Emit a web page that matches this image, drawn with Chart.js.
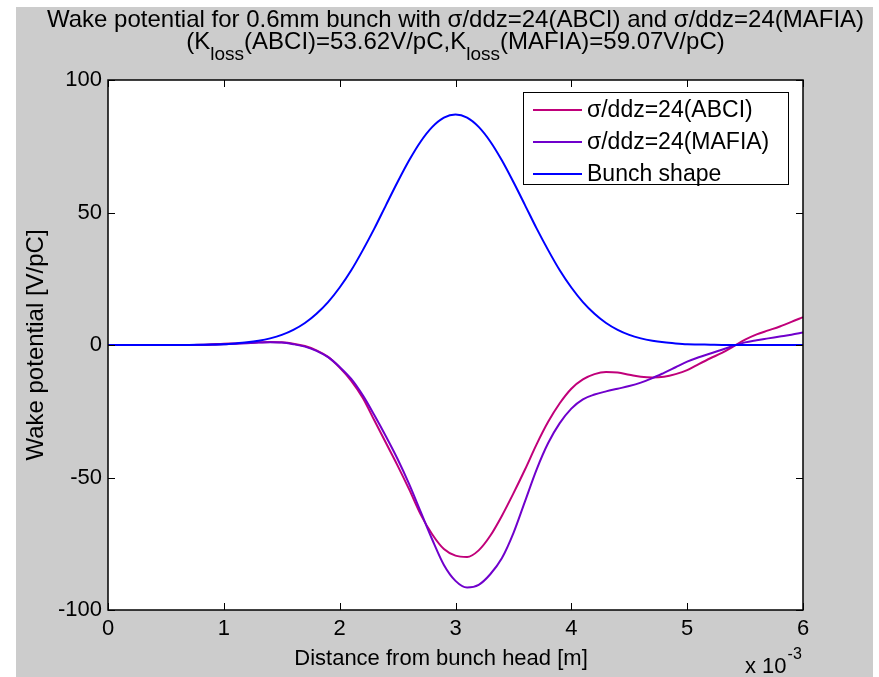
<!DOCTYPE html>
<html>
<head>
<meta charset="utf-8">
<script src="https://cdn.jsdelivr.net/npm/chart.js@4.4.1/dist/chart.umd.min.js"></script>
<style>
  html, body { margin: 0; padding: 0; background: #fff; }
</style>
</head>
<body>
<canvas id="c" width="879" height="677"></canvas>
<script>
// distance from bunch head, in units of 1e-3 m (axis shows "x 10^-3")
const distance = [0.0,0.1,0.2,0.3,0.4,0.5,0.6,0.7,0.8,0.9,
  1.0,1.1,1.2,1.3,1.4,1.5,1.6,1.7,1.8,1.9,
  2.0,2.1,2.2,2.3,2.4,2.5,2.6,2.7,2.8,2.9,
  3.0,3.1,3.2,3.3,3.4,3.5,3.6,3.7,3.8,3.9,
  4.0,4.1,4.2,4.3,4.4,4.5,4.6,4.7,4.8,4.9,
  5.0,5.1,5.2,5.3,5.4,5.5,5.6,5.7,5.8,5.9,6.0];

const wakeABCI = [0,0,0,0,0,0,0,0,0.1,0.3,
  0.5,0.6,0.8,1.0,1.1,1.0,0.5,-0.4,-2.0,-4.5,
  -8.5,-13.5,-20,-28.5,-37,-45.5,-54.5,-64,-71.5,-77,
  -79.5,-80,-77.5,-72,-64.5,-56,-47,-37.5,-29,-22,
  -16.5,-13,-11,-10.2,-10.4,-11.2,-12,-12.3,-12,-11,
  -9.5,-7.2,-5,-3,-0.5,2,4,5.5,7,8.7,10.5];

const wakeMAFIA = [0,0,0,0,0,0,0,0,0,0.1,
  0.3,0.5,0.7,0.9,1.0,0.9,0.3,-0.6,-2.2,-4.6,
  -8.3,-12.8,-19,-26.5,-34.5,-43,-52.5,-63,-73.5,-83,
  -89,-91.5,-90.5,-86.5,-80.5,-71,-59,-47,-37,-29.5,
  -24,-20.5,-18.7,-17.5,-16.5,-15.5,-14.2,-12.5,-10.5,-8.4,
  -6.3,-4.6,-3.2,-1.8,-0.3,1.0,1.8,2.5,3.2,3.9,4.7];

const bunchShape = [0,0,0,0,0,0,0,0,0.1,0.2,
  0.3,0.6,1.0,1.6,2.5,3.8,5.7,8.3,11.8,16.2,
  21.7,28.2,35.8,44.0,52.8,61.5,69.7,76.8,82.3,85.8,
  87.0,85.8,82.3,76.8,69.7,61.5,52.8,44.0,35.8,28.2,
  21.7,16.2,11.8,8.3,5.7,3.8,2.5,1.6,1.0,0.6,
  0.3,0.2,0.1,0,0,0,0,0,0,0,0];

const xTicks = [0, 1, 2, 3, 4, 5, 6];
const yTicks = [-100, -50, 0, 50, 100];

const FONT = '"Liberation Sans", Arial, Helvetica, sans-serif';

function pts(ys) {
  return distance.map((x, i) => ({ x: x, y: ys[i] }));
}

// figure background, white axes area
const bgPlugin = {
  id: 'bg',
  beforeDraw(chart) {
    const ctx = chart.ctx, a = chart.chartArea;
    ctx.save();
    ctx.fillStyle = '#ffffff';
    ctx.fillRect(0, 0, chart.width, chart.height);
    ctx.fillStyle = '#cccccc';
    ctx.fillRect(16, 7, 857, 670);
    ctx.fillStyle = '#ffffff';
    ctx.fillRect(a.left, a.top, a.right - a.left, a.bottom - a.top);
    ctx.restore();
  }
};

// box, inward ticks on all four sides, x label and multiplier
const boxPlugin = {
  id: 'box',
  afterDraw(chart) {
    const ctx = chart.ctx, a = chart.chartArea;
    const xs = chart.scales.x, ys = chart.scales.y;
    const tl = 7;
    ctx.save();
    ctx.strokeStyle = '#000';
    ctx.lineWidth = 1;
    ctx.beginPath();
    xTicks.forEach(v => {
      const p = Math.round(xs.getPixelForValue(v)) + 0.5;
      ctx.moveTo(p, a.bottom); ctx.lineTo(p, a.bottom - tl);
      ctx.moveTo(p, a.top); ctx.lineTo(p, a.top + tl);
    });
    yTicks.forEach(v => {
      const p = Math.round(ys.getPixelForValue(v)) + 0.5;
      ctx.moveTo(a.left, p); ctx.lineTo(a.left + tl, p);
      ctx.moveTo(a.right, p); ctx.lineTo(a.right - tl, p);
    });
    ctx.stroke();
    ctx.lineWidth = 1.5;
    ctx.strokeRect(a.left, a.top, a.right - a.left, a.bottom - a.top);

    ctx.fillStyle = '#000';
    ctx.textBaseline = 'alphabetic';
    ctx.textAlign = 'center';
    ctx.font = '22px ' + FONT;
    ctx.fillText('Distance from bunch head [m]', 441, 665);

    ctx.textAlign = 'left';
    ctx.fillText('x 10', 745, 673);
    const w = ctx.measureText('x 10').width;
    ctx.font = '16px ' + FONT;
    ctx.fillText('-3', 745 + w + 1, 659);
    ctx.restore();
  }
};

// two-line title with subscripts
const titlePlugin = {
  id: 'mtitle',
  afterDraw(chart) {
    const ctx = chart.ctx;
    const cx = (chart.chartArea.left + chart.chartArea.right) / 2;
    ctx.save();
    ctx.fillStyle = '#000';
    ctx.textBaseline = 'alphabetic';
    ctx.textAlign = 'center';
    ctx.font = '24px ' + FONT;
    ctx.fillText('Wake potential for 0.6mm bunch with \u03c3/ddz=24(ABCI) and \u03c3/ddz=24(MAFIA)', cx, 27);

    const parts = [
      ['(K', false], ['loss', true], ['(ABCI)=53.62V/pC,K', false], ['loss', true], ['(MAFIA)=59.07V/pC)', false]
    ];
    const big = '24px ' + FONT, small = '19px ' + FONT;
    let total = 0;
    parts.forEach(p => { ctx.font = p[1] ? small : big; total += ctx.measureText(p[0]).width; });
    let x = cx - total / 2;
    ctx.textAlign = 'left';
    parts.forEach(p => {
      ctx.font = p[1] ? small : big;
      ctx.fillText(p[0], x, p[1] ? 60 : 49);
      x += ctx.measureText(p[0]).width;
    });
    ctx.restore();
  }
};

// legend box in the upper right of the axes
const legendPlugin = {
  id: 'mlegend',
  afterDraw(chart) {
    const ctx = chart.ctx;
    const rowY = [110, 142, 174];
    ctx.save();
    ctx.fillStyle = '#fff';
    ctx.fillRect(523, 92, 265, 92);
    ctx.strokeStyle = '#000';
    ctx.lineWidth = 1;
    ctx.strokeRect(523.5, 92.5, 265, 92);
    ctx.font = '23px ' + FONT;
    ctx.textBaseline = 'middle';
    ctx.textAlign = 'left';
    chart.data.datasets.forEach((ds, i) => {
      ctx.strokeStyle = ds.borderColor;
      ctx.lineWidth = 2;
      ctx.beginPath();
      ctx.moveTo(533, rowY[i]); ctx.lineTo(582, rowY[i]);
      ctx.stroke();
      ctx.fillStyle = '#000';
      ctx.fillText(ds.label, 587, rowY[i] + 1);
    });
    ctx.restore();
  }
};

new Chart(document.getElementById('c'), {
  type: 'line',
  data: {
    datasets: [
      { label: '\u03c3/ddz=24(ABCI)', data: pts(wakeABCI), borderColor: '#c0007a', order: 3 },
      { label: '\u03c3/ddz=24(MAFIA)', data: pts(wakeMAFIA), borderColor: '#7000cc', order: 2 },
      { label: 'Bunch shape', data: pts(bunchShape), borderColor: '#0000ff', order: 1 }
    ]
  },
  options: {
    responsive: false,
    animation: false,
    devicePixelRatio: 1,
    layout: { padding: { top: 80, right: 76, left: 0, bottom: 0 } },
    elements: {
      line: { borderWidth: 2, cubicInterpolationMode: 'monotone', fill: false },
      point: { radius: 0, hoverRadius: 0 }
    },
    plugins: { legend: { display: false }, tooltip: { enabled: false }, title: { display: false } },
    scales: {
      x: {
        type: 'linear', min: 0, max: 6,
        afterBuildTicks(s) { s.ticks = xTicks.map(v => ({ value: v })); },
        afterFit(s) { s.height = 67; },
        grid: { display: false, drawTicks: false },
        border: { display: false },
        ticks: { color: '#000', padding: 6, maxRotation: 0, autoSkip: false, font: { size: 22, family: FONT } },
        title: { display: false }
      },
      y: {
        type: 'linear', min: -100, max: 100,
        afterBuildTicks(s) { s.ticks = yTicks.map(v => ({ value: v })); },
        afterFit(s) { s.width = 108; },
        grid: { display: false, drawTicks: false },
        border: { display: false },
        ticks: { color: '#000', padding: 6, font: { size: 22, family: FONT } },
        title: { display: true, text: 'Wake potential [V/pC]', color: '#000',
          font: { size: 24, family: FONT }, padding: { top: 22, bottom: 0 } }
      }
    }
  },
  plugins: [bgPlugin, boxPlugin, titlePlugin, legendPlugin]
});
</script>
</body>
</html>
